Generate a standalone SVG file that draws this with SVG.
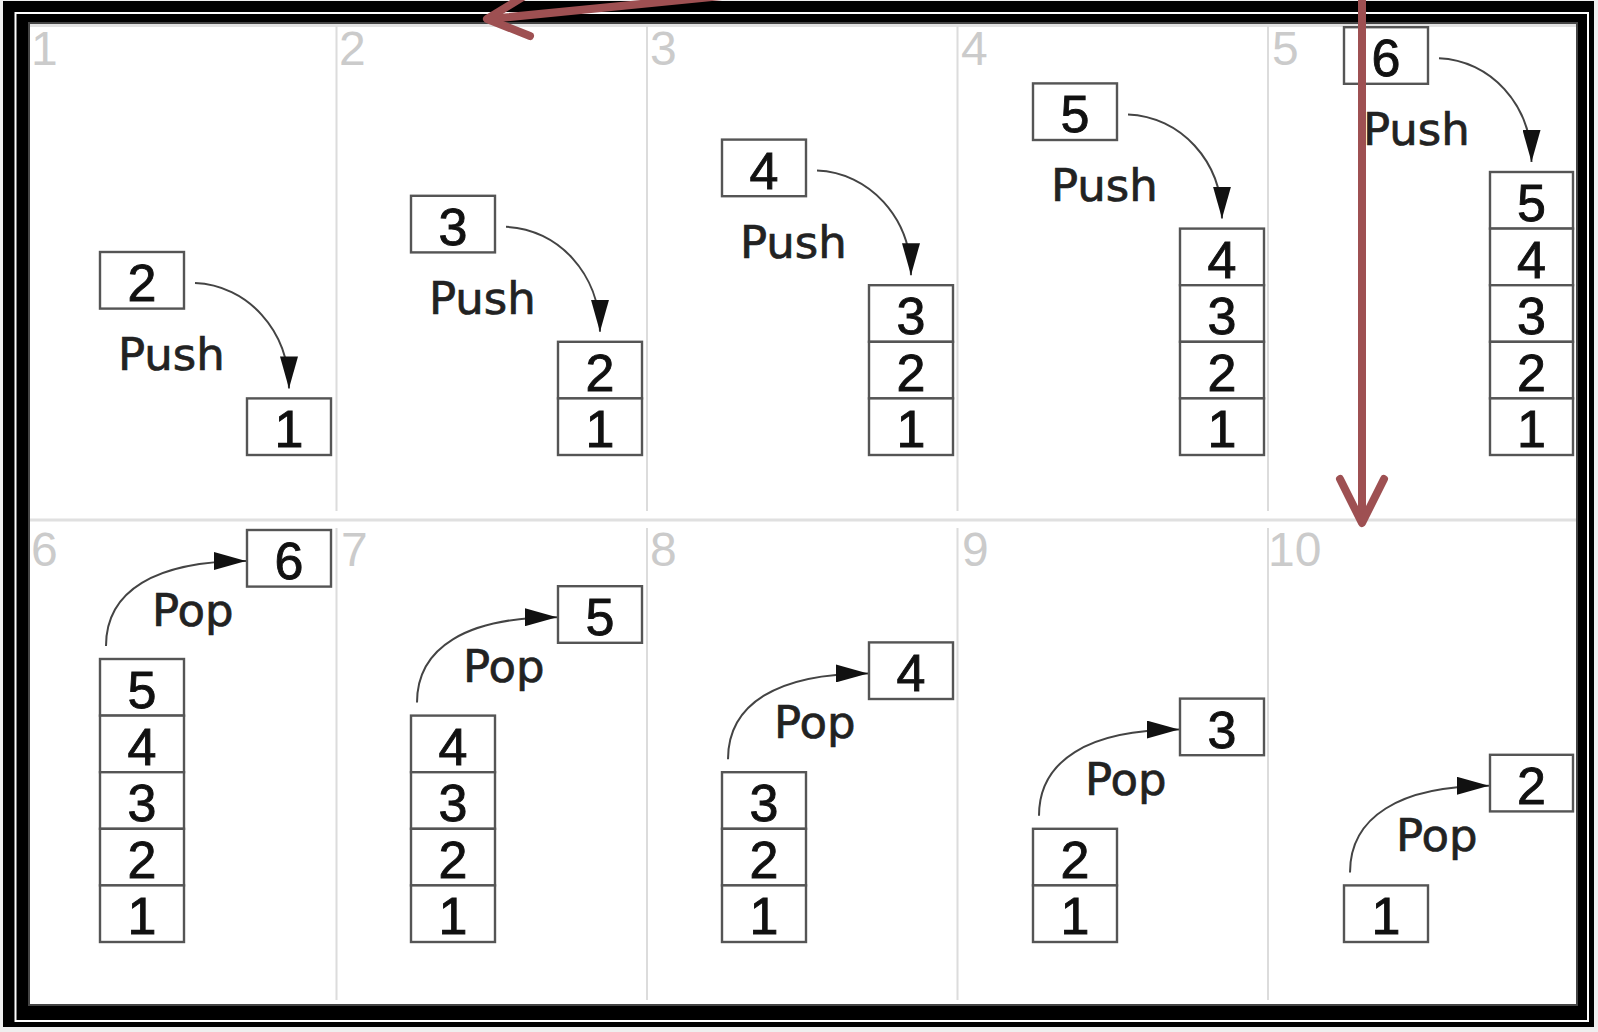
<svg xmlns="http://www.w3.org/2000/svg" width="1598" height="1032" viewBox="0 0 1598 1032">
<style>
.box{fill:#fff;stroke:#555;stroke-width:2.4}
.num{font-family:"Liberation Sans",Arial,sans-serif;font-size:52px;fill:#111;stroke:#111;stroke-width:0.9;text-anchor:middle}
.op{font-family:"DejaVu Sans",Verdana,sans-serif;font-size:45px;fill:#222;stroke:#222;stroke-width:0.7}
.pnum{font-family:"Liberation Sans",Arial,sans-serif;font-size:48px;fill:#cbcbcb}
.conn{fill:none;stroke:#444;stroke-width:2;marker-end:url(#ah)}
.red{fill:none;stroke:#9e5052;stroke-width:8;stroke-linecap:round;stroke-linejoin:round}
.div{stroke:#dcdcdc;stroke-width:2;fill:none}
</style>
<defs>
<marker id="ah" viewBox="0 0 32 18" refX="32" refY="9" markerWidth="32" markerHeight="18" markerUnits="userSpaceOnUse" orient="auto">
<path d="M0,0 L32,9 L0,18 z" fill="#111"/>
</marker>
</defs>

<g id="frame">
<rect width="1598" height="1032" fill="#efefef"/>
<rect x="3" y="1" width="1591" height="1026" fill="#000"/>
<rect x="15.5" y="13" width="1572.5" height="1008" fill="none" stroke="#fff" stroke-width="2"/>
<rect x="29" y="23" width="1548" height="982" fill="#fff" stroke="#444" stroke-width="2"/>
<line x1="30" y1="25.5" x2="1576" y2="25.5" stroke="#e2e2e2" stroke-width="3"/>
</g>

<g id="grid">
<line class="div" x1="336.5" y1="26" x2="336.5" y2="511"/>
<line class="div" x1="647" y1="26" x2="647" y2="511"/>
<line class="div" x1="957.5" y1="26" x2="957.5" y2="511"/>
<line class="div" x1="1268" y1="26" x2="1268" y2="511"/>
<line class="div" x1="336.5" y1="528" x2="336.5" y2="1000"/>
<line class="div" x1="647" y1="528" x2="647" y2="1000"/>
<line class="div" x1="957.5" y1="528" x2="957.5" y2="1000"/>
<line class="div" x1="1268" y1="528" x2="1268" y2="1000"/>
<line x1="30" y1="520" x2="1576" y2="520" stroke="#e0e0e0" stroke-width="3"/>
<text class="pnum" x="31" y="65">1</text>
<text class="pnum" x="339" y="65">2</text>
<text class="pnum" x="650" y="65">3</text>
<text class="pnum" x="961" y="65">4</text>
<text class="pnum" x="1272" y="65">5</text>
<text class="pnum" x="31" y="566">6</text>
<text class="pnum" x="341" y="566">7</text>
<text class="pnum" x="650" y="566">8</text>
<text class="pnum" x="962" y="566">9</text>
<text class="pnum" x="1268" y="566">10</text>
</g>

<!-- Row 1: Push -->
<g id="p1-in-2"><rect class="box" x="100" y="252" width="84" height="56.6"/><text class="num" x="142" y="301">2</text></g>
<g id="p1-s1"><rect class="box" x="247" y="398.4" width="84" height="56.6"/><text class="num" x="289" y="447.4">1</text></g>
<text class="op" x="118" y="370">Push</text>

<g id="p2-in-3"><rect class="box" x="411" y="195.8" width="84" height="56.6"/><text class="num" x="453" y="244.8">3</text></g>
<g id="p2-s2"><rect class="box" x="558" y="341.8" width="84" height="56.6"/><text class="num" x="600" y="390.8">2</text></g>
<g id="p2-s1"><rect class="box" x="558" y="398.4" width="84" height="56.6"/><text class="num" x="600" y="447.4">1</text></g>
<text class="op" x="429" y="313.8">Push</text>

<g id="p3-in-4"><rect class="box" x="722" y="139.6" width="84" height="56.6"/><text class="num" x="764" y="188.6">4</text></g>
<g id="p3-s3"><rect class="box" x="869" y="285.2" width="84" height="56.6"/><text class="num" x="911" y="334.2">3</text></g>
<g id="p3-s2"><rect class="box" x="869" y="341.8" width="84" height="56.6"/><text class="num" x="911" y="390.8">2</text></g>
<g id="p3-s1"><rect class="box" x="869" y="398.4" width="84" height="56.6"/><text class="num" x="911" y="447.4">1</text></g>
<text class="op" x="740" y="257.6">Push</text>

<g id="p4-in-5"><rect class="box" x="1033" y="83.4" width="84" height="56.6"/><text class="num" x="1075" y="132.4">5</text></g>
<g id="p4-s4"><rect class="box" x="1180" y="228.6" width="84" height="56.6"/><text class="num" x="1222" y="277.6">4</text></g>
<g id="p4-s3"><rect class="box" x="1180" y="285.2" width="84" height="56.6"/><text class="num" x="1222" y="334.2">3</text></g>
<g id="p4-s2"><rect class="box" x="1180" y="341.8" width="84" height="56.6"/><text class="num" x="1222" y="390.8">2</text></g>
<g id="p4-s1"><rect class="box" x="1180" y="398.4" width="84" height="56.6"/><text class="num" x="1222" y="447.4">1</text></g>
<text class="op" x="1051" y="201.4">Push</text>

<g id="p5-in-6"><rect class="box" x="1344" y="27.2" width="84" height="56.6"/><text class="num" x="1386" y="76.2">6</text></g>
<g id="p5-s5"><rect class="box" x="1490" y="172" width="83" height="56.6"/><text class="num" x="1531.5" y="221">5</text></g>
<g id="p5-s4"><rect class="box" x="1490" y="228.6" width="83" height="56.6"/><text class="num" x="1531.5" y="277.6">4</text></g>
<g id="p5-s3"><rect class="box" x="1490" y="285.2" width="83" height="56.6"/><text class="num" x="1531.5" y="334.2">3</text></g>
<g id="p5-s2"><rect class="box" x="1490" y="341.8" width="83" height="56.6"/><text class="num" x="1531.5" y="390.8">2</text></g>
<g id="p5-s1"><rect class="box" x="1490" y="398.4" width="83" height="56.6"/><text class="num" x="1531.5" y="447.4">1</text></g>
<text class="op" x="1363" y="145.2">Push</text>

<!-- Row 2: Pop -->
<g id="p6-out-6"><rect class="box" x="247" y="530" width="84" height="56.6"/><text class="num" x="289" y="579">6</text></g>
<g id="p6-s5"><rect class="box" x="100" y="659" width="84" height="56.6"/><text class="num" x="142" y="708">5</text></g>
<g id="p6-s4"><rect class="box" x="100" y="715.6" width="84" height="56.6"/><text class="num" x="142" y="764.6">4</text></g>
<g id="p6-s3"><rect class="box" x="100" y="772.2" width="84" height="56.6"/><text class="num" x="142" y="821.2">3</text></g>
<g id="p6-s2"><rect class="box" x="100" y="828.8" width="84" height="56.6"/><text class="num" x="142" y="877.8">2</text></g>
<g id="p6-s1"><rect class="box" x="100" y="885.4" width="84" height="56.6"/><text class="num" x="142" y="934.4">1</text></g>
<text class="op" x="152" y="626">Pop</text>

<g id="p7-out-5"><rect class="box" x="558" y="586.2" width="84" height="56.6"/><text class="num" x="600" y="635.2">5</text></g>
<g id="p7-s4"><rect class="box" x="411" y="715.6" width="84" height="56.6"/><text class="num" x="453" y="764.6">4</text></g>
<g id="p7-s3"><rect class="box" x="411" y="772.2" width="84" height="56.6"/><text class="num" x="453" y="821.2">3</text></g>
<g id="p7-s2"><rect class="box" x="411" y="828.8" width="84" height="56.6"/><text class="num" x="453" y="877.8">2</text></g>
<g id="p7-s1"><rect class="box" x="411" y="885.4" width="84" height="56.6"/><text class="num" x="453" y="934.4">1</text></g>
<text class="op" x="463" y="682.2">Pop</text>

<g id="p8-out-4"><rect class="box" x="869" y="642.4" width="84" height="56.6"/><text class="num" x="911" y="691.4">4</text></g>
<g id="p8-s3"><rect class="box" x="722" y="772.2" width="84" height="56.6"/><text class="num" x="764" y="821.2">3</text></g>
<g id="p8-s2"><rect class="box" x="722" y="828.8" width="84" height="56.6"/><text class="num" x="764" y="877.8">2</text></g>
<g id="p8-s1"><rect class="box" x="722" y="885.4" width="84" height="56.6"/><text class="num" x="764" y="934.4">1</text></g>
<text class="op" x="774" y="738.4">Pop</text>

<g id="p9-out-3"><rect class="box" x="1180" y="698.6" width="84" height="56.6"/><text class="num" x="1222" y="747.6">3</text></g>
<g id="p9-s2"><rect class="box" x="1033" y="828.8" width="84" height="56.6"/><text class="num" x="1075" y="877.8">2</text></g>
<g id="p9-s1"><rect class="box" x="1033" y="885.4" width="84" height="56.6"/><text class="num" x="1075" y="934.4">1</text></g>
<text class="op" x="1085" y="794.6">Pop</text>

<g id="p10-out-2"><rect class="box" x="1490" y="754.8" width="83" height="56.6"/><text class="num" x="1531.5" y="803.8">2</text></g>
<g id="p10-s1"><rect class="box" x="1344" y="885.4" width="84" height="56.6"/><text class="num" x="1386" y="934.4">1</text></g>
<text class="op" x="1396" y="850.8">Pop</text>

<g id="connectors">
<path class="conn" d="M195,283 C247,285 289,330 289,388.4"/>
<path class="conn" d="M506,226.8 C558,228.8 600,273.8 600,331.8"/>
<path class="conn" d="M817,170.6 C869,172.6 911,217.2 911,275.2"/>
<path class="conn" d="M1128,114.4 C1180,116.4 1222,160.6 1222,218.6"/>
<path class="conn" d="M1439,58.2 C1490,60.2 1531.5,104 1531.5,162"/>
<path class="conn" d="M106,646 C106,591 155,561 246,561"/>
<path class="conn" d="M417,702.6 C417,647.6 466,617.2 557,617.2"/>
<path class="conn" d="M728,759.2 C728,704.2 777,673.4 868,673.4"/>
<path class="conn" d="M1039,815.8 C1039,760.8 1088,729.6 1179,729.6"/>
<path class="conn" d="M1350,872.4 C1350,817.4 1399,785.8 1489,785.8"/>
</g>

<g id="red-arrows">
<path class="red" d="M722,-4 L489,19"/>
<path class="red" d="M526,-5 L487,19 L530,36"/>
<path class="red" d="M1362,-5 L1362,520"/>
<path class="red" d="M1340,479 L1362,523 L1384,479"/>
</g>
</svg>
